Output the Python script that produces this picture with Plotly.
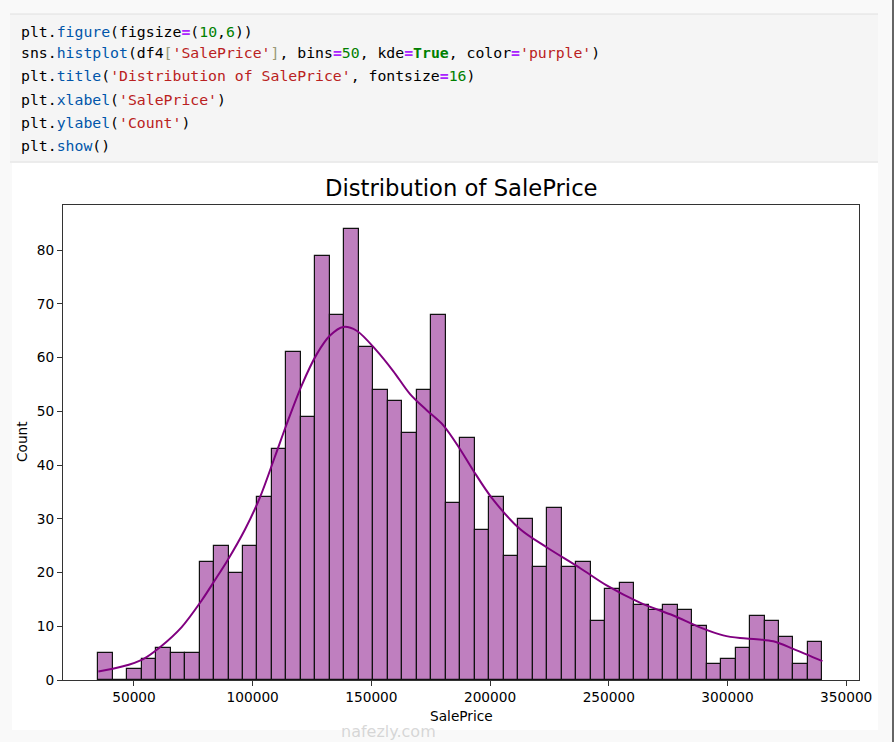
import numpy as np
import plotly.graph_objects as go

# Histogram counts (50 bins between min and max SalePrice)
sale_min = 34900
sale_max = 340000
counts = [5, 0, 2, 4, 6, 5, 5, 22, 25, 20,
          25, 34, 43, 61, 49, 79, 68, 84, 62, 54,
          52, 46, 54, 68, 33, 45, 28, 34, 23, 30,
          21, 32, 21, 22, 11, 17, 18, 14, 13, 14,
          13, 10, 3, 4, 6, 12, 11, 8, 3, 7]

# KDE curve points (in count units)
kde_x = [35000, 45000, 53900, 60950, 70000, 78500, 84400, 89050, 96750, 103070,
         109390, 114300, 120620, 126940, 132560, 138180, 143800, 152200, 159200,
         166300, 173300, 180300, 187300, 192900, 200700, 212600, 223800, 238000,
         249100, 263100, 277200, 288400, 298200, 305300, 312300, 319300, 327700, 340000]
kde_y = [1.6, 2.5, 3.9, 6.1, 9.8, 14.8, 18.8, 22.0, 28.0, 34.0,
         41.6, 47.6, 54.8, 60.6, 64.1, 65.7, 65.0, 61.3, 57.5,
         53.2, 50.2, 47.4, 43.0, 39.0, 33.9, 28.1, 24.7, 20.8,
         17.6, 14.4, 12.0, 9.8, 8.3, 7.8, 7.6, 7.2, 5.8, 3.5]

x_ticks = [50000, 100000, 150000, 200000, 250000, 300000, 350000]
y_ticks = [0, 10, 20, 30, 40, 50, 60, 70, 80]

# code cell text, as (token, colour, bold)
BLK, BLU, OP, NUM, STR, BR = "#000000", "#0055aa", "#aa22ff", "#008000", "#ba2121", "#999977"
code_lines = [
    [("plt", BLK, 0), (".", BLK, 0), ("figure", BLU, 0), ("(figsize", BLK, 0), ("=", OP, 1),
     ("(", BLK, 0), ("10", NUM, 0), (",", BLK, 0), ("6", NUM, 0), ("))", BLK, 0)],
    [("sns", BLK, 0), (".", BLK, 0), ("histplot", BLU, 0), ("(df4", BLK, 0), ("[", BR, 0),
     ("'SalePrice'", STR, 0), ("]", BR, 0), (", bins", BLK, 0), ("=", OP, 1), ("50", NUM, 0),
     (", kde", BLK, 0), ("=", OP, 1), ("True", NUM, 1), (", color", BLK, 0), ("=", OP, 1),
     ("'purple'", STR, 0), (")", BLK, 0)],
    [("plt", BLK, 0), (".", BLK, 0), ("title", BLU, 0), ("(", BLK, 0),
     ("'Distribution of SalePrice'", STR, 0), (", fontsize", BLK, 0), ("=", OP, 1),
     ("16", NUM, 0), (")", BLK, 0)],
    [("plt", BLK, 0), (".", BLK, 0), ("xlabel", BLU, 0), ("(", BLK, 0), ("'SalePrice'", STR, 0),
     (")", BLK, 0)],
    [("plt", BLK, 0), (".", BLK, 0), ("ylabel", BLU, 0), ("(", BLK, 0), ("'Count'", STR, 0),
     (")", BLK, 0)],
    [("plt", BLK, 0), (".", BLK, 0), ("show", BLU, 0), ("()", BLK, 0)],
]
code_line_y = [31, 53, 76, 99, 122, 145]

W, H = 894, 742
L, R, T, B = 63, 859, 205, 680


def px_x(px):
    return (px - L) / (R - L)


def px_y(py):
    return (B - py) / (B - T)


def to_html(tokens):
    out = ""
    for txt, col, bold in tokens:
        s = f'<span style="color:{col}">{txt}</span>'
        out += f"<b>{s}</b>" if bold else s
    return out


edges = np.linspace(sale_min, sale_max, len(counts) + 1)
centers = (edges[:-1] + edges[1:]) / 2
width = edges[1] - edges[0]

fig = go.Figure()

fig.add_trace(go.Bar(
    x=centers,
    y=counts,
    width=width,
    marker=dict(color="rgba(128,0,128,0.5)", line=dict(color="#111111", width=1.2)),
    showlegend=False,
    hoverinfo="x+y",
))

fig.add_trace(go.Scatter(
    x=kde_x,
    y=kde_y,
    mode="lines",
    line=dict(color="#800080", width=2, shape="spline", smoothing=0.9),
    showlegend=False,
    hoverinfo="skip",
))

shapes = [
    # code cell
    dict(type="rect", xref="paper", yref="paper", x0=px_x(10), x1=px_x(878),
         y0=px_y(14), y1=px_y(162), fillcolor="#f5f5f5", line=dict(width=0), layer="below"),
    dict(type="line", xref="paper", yref="paper", x0=px_x(10), x1=px_x(878),
         y0=px_y(14), y1=px_y(14), line=dict(color="#e0e0e0", width=1)),
    dict(type="line", xref="paper", yref="paper", x0=px_x(10), x1=px_x(878),
         y0=px_y(162), y1=px_y(162), line=dict(color="#e0e0e0", width=1)),
    # output area
    dict(type="rect", xref="paper", yref="paper", x0=px_x(12), x1=px_x(878),
         y0=px_y(163), y1=px_y(730), fillcolor="white", line=dict(width=0), layer="below"),
    # window edge
    dict(type="line", xref="paper", yref="paper", x0=px_x(893), x1=px_x(893),
         y0=px_y(0), y1=px_y(742), line=dict(color="#333333", width=1.5)),
]

annotations = []
for tokens, ly in zip(code_lines, code_line_y):
    annotations.append(dict(
        text=to_html(tokens), xref="paper", yref="paper", x=px_x(19), y=px_y(ly),
        xanchor="left", yanchor="middle", showarrow=False,
        font=dict(family="DejaVu Sans Mono", size=14.8, color="#000000"),
    ))

annotations += [
    dict(text="Distribution of SalePrice", xref="paper", yref="paper",
         x=px_x(461), y=px_y(188), xanchor="center", yanchor="middle", showarrow=False,
         font=dict(family="DejaVu Sans", size=22.7, color="#000000")),
    dict(text="SalePrice", xref="paper", yref="paper",
         x=px_x(461), y=px_y(716), xanchor="center", yanchor="middle", showarrow=False,
         font=dict(family="DejaVu Sans", size=13.7, color="#000000")),
    dict(text="Count", xref="paper", yref="paper", textangle=-90,
         x=px_x(22), y=px_y(442), xanchor="center", yanchor="middle", showarrow=False,
         font=dict(family="DejaVu Sans", size=13.7, color="#000000")),
    dict(text="nafezly.com", xref="paper", yref="paper",
         x=px_x(388), y=px_y(731), xanchor="center", yanchor="middle", showarrow=False,
         font=dict(family="DejaVu Sans", size=16, color="rgba(190,190,190,0.6)")),
]

fig.update_layout(
    width=W,
    height=H,
    margin=dict(l=L, r=W - R, t=T, b=H - B, pad=0),
    paper_bgcolor="#f9f9f9",
    plot_bgcolor="white",
    bargap=0,
    font=dict(family="DejaVu Sans", size=13.7, color="#000000"),
    xaxis=dict(
        range=[20100, 355400],
        tickvals=x_ticks,
        ticktext=[str(v) for v in x_ticks],
        ticks="outside", ticklen=5, tickcolor="#333333",
        showline=True, mirror=True, linecolor="#333333", linewidth=1,
        showgrid=False, zeroline=False,
    ),
    yaxis=dict(
        range=[0, 88.4],
        tickvals=y_ticks,
        ticks="outside", ticklen=5, tickcolor="#333333",
        showline=True, mirror=True, linecolor="#333333", linewidth=1,
        showgrid=False, zeroline=False,
    ),
    shapes=shapes,
    annotations=annotations,
)

# drop the default page margin so the figure fills the window exactly
fig.write_html("out.html", config={"displayModeBar": False},
               post_script="document.body.style.margin='0';")
